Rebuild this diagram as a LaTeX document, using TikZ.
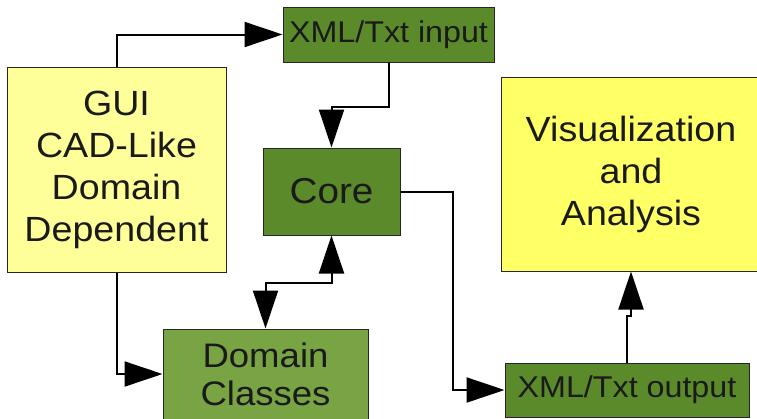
\documentclass[tikz,border=0pt]{standalone}
\usepackage{fontspec}
\setmainfont[FakeStretch=1.075]{Liberation Sans}
\usetikzlibrary{arrows.meta}
\definecolor{dkgreen}{HTML}{5B8A2A}
\definecolor{ltgreen}{HTML}{78A444}
\definecolor{paleyel}{HTML}{FFFF99}
\definecolor{brightyel}{HTML}{FFFF66}
\definecolor{txt}{HTML}{1A1A1A}
\begin{document}
\begin{tikzpicture}[x=1pt,y=-1pt,
  box/.style={draw=black!85,line width=1pt,rectangle,inner sep=0pt,align=center,text=txt},
  bigtxt/.style={font=\fontsize{35}{42}\selectfont},
  smalltxt/.style={font=\fontsize{30}{36}\selectfont},
  arr/.style={line width=2pt,-{Triangle[length=38pt,width=25pt]}},
  both/.style={line width=2pt,{Triangle[length=38pt,width=25pt]}-{Triangle[length=38pt,width=25pt]}}]
\path[use as bounding box] (0,0) rectangle (757,418);
\clip (0,0) rectangle (757,418);
\node[box,bigtxt,fill=paleyel,minimum width=219pt,minimum height=205pt] (gui) at (116.5,169.5) {GUI\\CAD-Like\\Domain\\Dependent};
\node[box,smalltxt,fill=dkgreen,minimum width=211pt,minimum height=55pt] (inp) at (388.5,34.5) {XML/Txt input};
\node[box,font=\fontsize{36}{42}\selectfont,fill=dkgreen,minimum width=137pt,minimum height=87pt] (core) at (331.5,191.5) {Core};
\node[box,bigtxt,fill=brightyel,minimum width=260pt,minimum height=194pt] (vis) at (631,174) {Visualization\\and\\Analysis};
\node[box,font=\fontsize{34}{38}\selectfont,fill=ltgreen,minimum width=205pt,minimum height=90pt] (dom) at (265.5,374) {Domain\\Classes};
\node[box,smalltxt,fill=dkgreen,minimum width=244pt,minimum height=54pt] (out) at (627,390) {XML/Txt output};
\draw[arr] (gui.north) |- (inp.west);
\draw[arr] (inp.south) -- ++(0,44) -| (core.north);
\draw[arr] (core.east) -- ++(52,0) |- (out.west);
\draw[arr] (gui.south) |- (dom.west);
\draw[both] (core.south) -- ++(0,47) -| (dom.north);
\draw[arr] (out.north) -- ++(0,-47) -- ++(4,0) -- (vis.south);
\end{tikzpicture}
\end{document}
